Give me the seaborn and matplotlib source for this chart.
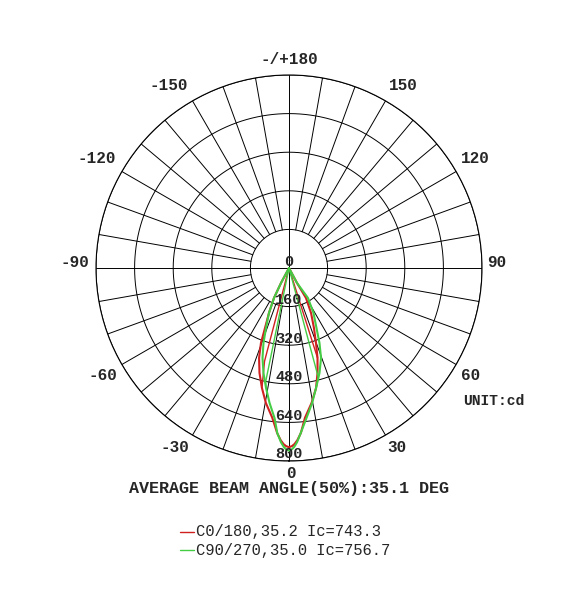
import numpy as np
import pandas as pd
import matplotlib
matplotlib.use("Agg")
import matplotlib.pyplot as plt
from matplotlib.lines import Line2D
import seaborn as sns

# ---------------- data ----------------
angle_labels = ["0", "30", "60", "90", "120", "150", "-/+180", "-150", "-120", "-90", "-60", "-30"]
radial_ticks = [0, 160, 320, 480, 640, 800]
radial_labels = ["0", "160", "320", "480", "640", "800"]

# C0/180 (red), left side (negative) then right side
red_ang = [-30, -28.1, -26.6, -24.0, -21.8, -20.5, -18.4, -15.7, -12.7, -9.7, -6.4, -4.1, -2.8, -1.8, -1.0, 0,
           1.0, 1.8, 2.8, 4.1, 6.1, 9.5, 12.7, 15.2, 17.6, 19.8, 22.6, 26.1, 29.5, 28.1, 30]
red_cd = [0, 70, 139, 204, 268, 332, 393, 452, 510, 568, 624, 686, 714, 730, 738, 743,
          738, 730, 714, 686, 624, 567, 510, 451, 391, 330, 269, 208, 143, 70, 0]
# inner (sharp cut-off) segments of C0/180
red_inner_l_ang = [-14.7, -14.7, -12.7]
red_inner_l_cd = [0, 400, 510]
red_inner_r_ang = [17.8, 17.6]
red_inner_r_cd = [0, 391]

# C90/270 (green)
green_ang = [-30, -28.1, -26.6, -24.0, -21.0, -18.8, -16.4, -13.65, -10.85, -8.2, -5.5, -4.06, -2.6, -1.66, -0.88, 0,
             0.88, 1.66, 2.6, 4.06, 6.65, 9.7, 12.7, 16.2, 19.6, 22.1, 24.6, 28.6, 32.3, 28.1, 30]
green_cd = [0, 70, 139, 204, 266, 328, 389, 448, 506, 565, 625, 686, 724, 742, 752, 757,
            752, 742, 724, 686, 626, 568, 510, 453, 396, 336, 274, 212, 147, 70, 0]
green_inner_l_ang = [-11.6, -11.6, -10.85]
green_inner_l_cd = [0, 480, 506]
green_inner_r_ang = [15.0, 15.0, 12.7]
green_inner_r_cd = [0, 470, 510]

legend_labels = ["C0/180,35.2 Ic=743.3", "C90/270,35.0 Ic=756.7"]
title_text = "AVERAGE BEAM ANGLE(50%):35.1 DEG"
unit_text = "UNIT:cd"

RED = "#d02020"
GREEN = "#44cc44"

# ---------------- figure ----------------
sns.set_style("white")
plt.rcParams["font.family"] = ["Liberation Mono", "DejaVu Sans"]

W, H = 586, 591
fig = plt.figure(figsize=(W / 100, H / 100), dpi=100)
cx, cy, R = 289, 268, 193
ax = fig.add_axes([(cx - R) / W, (H - cy - R) / H, 2 * R / W, 2 * R / H], projection="polar")
ax.set_theta_zero_location("S")
ax.set_theta_direction(1)
ax.grid(False)
ax.set_xticks([])
ax.set_yticks([])
ax.spines["polar"].set_linewidth(0.8)
ax.spines["polar"].set_color("black")

# grid rings
full = np.linspace(0, 2 * np.pi, 721)
for r in radial_ticks[1:]:
    ax.plot(full, np.full_like(full, r), color="black", lw=0.7, zorder=1)
# spokes
for d in range(0, 360, 10):
    t = np.deg2rad(d)
    r0 = 0 if d % 90 == 0 else radial_ticks[1]
    ax.plot([t, t], [r0, radial_ticks[-1]], color="black", lw=0.7, zorder=1)


def draw(ang, cd, color, lw):
    df = pd.DataFrame({"theta": np.deg2rad(ang), "cd": cd})
    sns.lineplot(data=df, x="theta", y="cd", sort=False, estimator=None,
                 color=color, lw=lw, ax=ax, zorder=3)


draw(red_inner_l_ang, red_inner_l_cd, RED, 1.0)
draw(red_inner_r_ang, red_inner_r_cd, RED, 1.0)
draw(red_ang, red_cd, RED, 1.5)
draw(green_inner_l_ang, green_inner_l_cd, GREEN, 1.0)
draw(green_inner_r_ang, green_inner_r_cd, GREEN, 1.0)
draw(green_ang, green_cd, GREEN, 1.5)

ax.set_xlabel("")
ax.set_ylabel("")
ax.set_ylim(0, 800)

# radial labels
for r, lab in zip(radial_ticks, radial_labels):
    ax.annotate(lab, xy=(0, r), xytext=(0, 1.8), textcoords="offset points",
                ha="center", va="baseline", fontsize=11, fontweight="bold",
                zorder=5, annotation_clip=False)

# angle labels, centres in pixels
label_px = {"0": (291, 474), "30": (397, 448), "60": (471, 375), "90": (497, 262),
            "120": (475, 158), "150": (403, 86), "-/+180": (289, 60), "-150": (169, 86),
            "-120": (97, 158), "-90": (75, 262), "-60": (103, 375), "-30": (175, 448)}
for lab in angle_labels:
    px, py = label_px[lab]
    fig.text(px / W, 1 - py / H, lab, ha="center", va="center", fontsize=11.5,
             fontweight="bold")

fig.text(cx / W, 1 - 489 / H, title_text, ha="center", va="center",
         fontsize=12.1, fontweight="bold")
fig.text(463 / W, 1 - 401 / H, unit_text, ha="left", va="center",
         fontsize=10.5, fontweight="bold")

# legend
for i, (lab, col) in enumerate(zip(legend_labels, [RED, GREEN])):
    y = 1 - (531.7 + 18.3 * i) / H
    fig.add_artist(Line2D([180.5 / W, 194 / W], [y, y], color=col, lw=1.0))
    fig.text(196 / W, y, lab, ha="left", va="center", fontsize=11.2)

fig.savefig("out.png", dpi=100)
